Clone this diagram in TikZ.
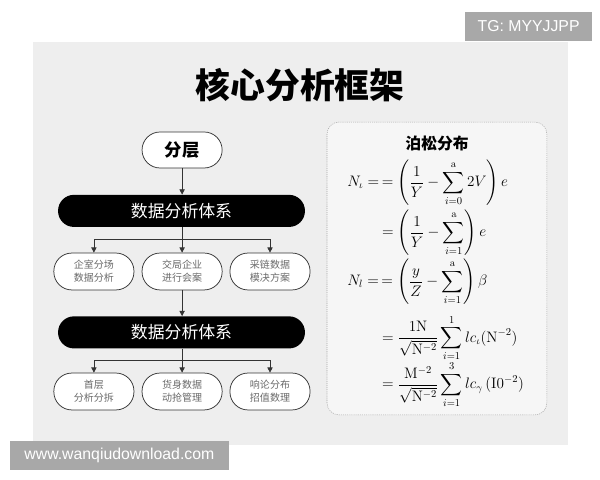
\documentclass[tikz,border=0pt]{standalone}
\usepackage[no-math]{fontspec}
\usepackage{amsmath}
\newfontfamily\cjk{Noto Sans CJK SC}
\newfontfamily\wmfont{Liberation Sans}
\usetikzlibrary{arrows.meta}
\definecolor{panelgray}{HTML}{EEEEEE}
\definecolor{boxgray}{HTML}{F6F6F6}
\definecolor{wmgray}{HTML}{A8A8A8}
\definecolor{pilltext}{HTML}{6A6A6A}
\tikzset{
  pill/.style={draw=black!80, line width=0.7pt, fill=white, rounded corners=0.6cm,
    minimum width=2.67cm, minimum height=1.23cm, align=center, inner sep=0pt,
    text=pilltext, font=\cjk\fontsize{9.5}{12.5}\selectfont},
  toppill/.style={pill, minimum height=1.2cm, text=black,
    font=\cjk\bfseries\fontsize{16.5}{18}\selectfont},
  bar/.style={fill=black, rounded corners=0.53cm, minimum width=8.23cm,
    minimum height=1.07cm, inner sep=0pt, text=white,
    font=\cjk\fontsize{16}{18}\selectfont},
  arr/.style={-{Triangle[length=5pt,width=5pt]}, line width=0.7pt, draw=black!80},
  eq/.style={anchor=west, inner sep=0pt, font=\fontsize{14}{17}\selectfont},
  wmark/.style={fill=wmgray, text=white, inner sep=0pt,
    font=\wmfont\fontsize{15}{17}\selectfont}
}
\begin{document}
\begin{tikzpicture}
  \useasboundingbox (0,0) rectangle (20,16);
  \fill [white] (0,0) rectangle (20,16);
  \fill [panelgray] (1.1,1.17) rectangle (18.93,14.6);

  % watermarks
  \node [wmark, minimum width=4.23cm, minimum height=0.97cm] (tg) at (17.62,15.12) {TG: MYYJJPP};
  \node [wmark, minimum width=7.3cm, minimum height=0.97cm] (www) at (3.98,0.82) {www.wanqiudownload.com};

  \node (title) at (10,13.17) {\cjk\bfseries\fontsize{33}{36}\selectfont 核心分析框架};

  % left column
  \begin{scope}
    \node [toppill] (layer) at (6.07,11.0) {分层};
    \node [bar] (barA) at (6.05,8.97) {数据分析体系};

    \node [pill] (pillAa) at (3.13,6.95) {企室分场\\数据分析};
    \node [pill] (pillAb) at (6.07,6.95) {交局企业\\进行会案};
    \node [pill] (pillAc) at (9.0,6.95) {采链数据\\模决方案};

    \node [bar] (barB) at (6.05,4.92) {数据分析体系};

    \node [pill] (pillBa) at (3.13,2.95) {首层\\分析分拆};
    \node [pill] (pillBb) at (6.07,2.95) {货身数据\\动抢管理};
    \node [pill] (pillBc) at (9.0,2.95) {响论分布\\招值数理};

    \draw [arr] (layer.south) -- (layer.south |- barA.north);
    \path (pillAb.north |- barA.south) ++(0,-0.4) coordinate (forkA);
    \draw [arr] (pillAb.north |- barA.south) -- (pillAb.north);
    \draw [arr] (forkA) -| (pillAa.north);
    \draw [arr] (forkA) -| (pillAc.north);

    \draw [arr] (pillAb.south) -- (pillAb.south |- barB.north);
    \path (pillBb.north |- barB.south) ++(0,-0.4) coordinate (forkB);
    \draw [arr] (pillBb.north |- barB.south) -- (pillBb.north);
    \draw [arr] (forkB) -| (pillBa.north);
    \draw [arr] (forkB) -| (pillBc.north);
  \end{scope}

  % right column
  \begin{scope}
    \draw [gray!70, fill=boxgray, line width=0.5pt, dash pattern=on 1pt off 1pt,
      rounded corners=0.4cm] (10.9,2.17) rectangle (18.23,11.93);
    \node (poisson) at (14.57,11.23) {\cjk\bfseries\fontsize{15}{17}\selectfont 泊松分布};

    \node [eq] (eqA) at (11.57,9.9)
      {$\displaystyle N_{\iota} =\,= \left(\frac{1}{Y} - \sum_{i=0}^{\mathrm{a}} 2V\right) e$};
    \node [eq] (eqB) at (12.73,8.23)
      {$\displaystyle = \left(\frac{1}{Y} - \sum_{i=1}^{\mathrm{a}}\right) e$};
    \node [eq] (eqC) at (11.57,6.6)
      {$\displaystyle N_{l} =\,= \left(\frac{y}{Z} - \sum_{i=1}^{\mathrm{a}}\right) \beta$};
    \node [eq] (eqD) at (12.73,4.73)
      {$\displaystyle = \frac{\mathrm{1N}}{\sqrt{\mathrm{N}^{-2}}} \sum_{i=1}^{1} lc_{\iota}(\mathrm{N}^{-2})$};
    \node [eq] (eqE) at (12.73,3.17)
      {$\displaystyle = \frac{\mathrm{M}^{-2}}{\sqrt{\mathrm{N}^{-2}}} \sum_{i=1}^{3} lc_{\gamma}\,(\mathrm{I0}^{-2})$};
  \end{scope}
\end{tikzpicture}
\end{document}
